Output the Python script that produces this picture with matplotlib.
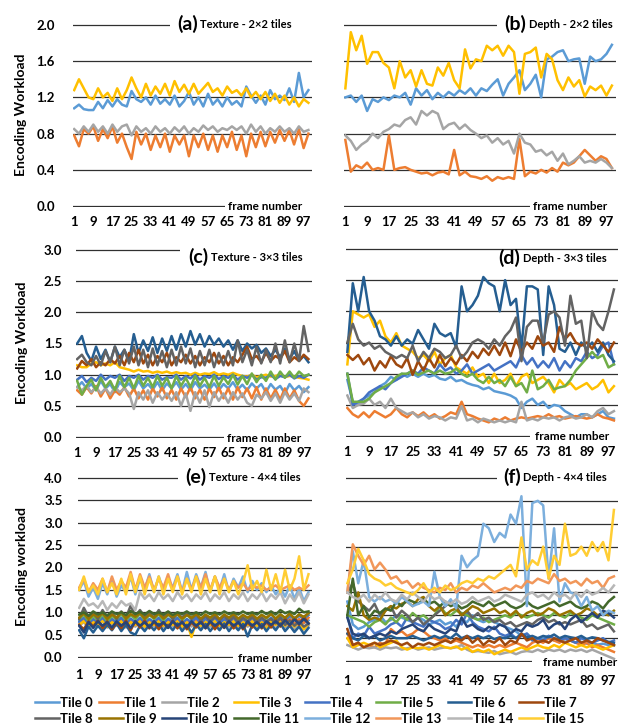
import numpy as np
import matplotlib.pyplot as plt
from matplotlib.patches import Rectangle

plt.rcParams['font.family'] = ['Lato', 'DejaVu Sans']
plt.rcParams['font.weight'] = 'bold'

W, H = 626, 725

# every second frame of the 100-frame sequence
frames = np.arange(1, 100, 2)
tick_frames = np.arange(1, 98, 8)
tiles = ['Tile %d' % i for i in range(16)]
colors = ['#5B9BD5', '#ED7D31', '#A5A5A5', '#FFC000', '#4472C4', '#70AD47', '#255E91', '#9E480E',
          '#636363', '#997300', '#264478', '#43682B', '#7CAFDD', '#F1975A', '#B7B7B7', '#FFCD33']

# (a) texture 2x2
tex_2x2 = [
    [1.08,1.12,1.07,1.06,1.06,1.15,1.08,1.17,1.10,1.18,1.12,1.10,1.27,1.18,1.15,1.20,1.12,1.22,1.13,1.18,1.12,1.22,1.10,1.16,1.26,1.12,1.20,1.10,1.24,1.12,1.18,1.10,1.20,1.12,1.16,1.10,1.32,1.22,1.14,1.22,1.12,1.28,1.18,1.22,1.17,1.30,1.15,1.47,1.20,1.28],
    [0.78,0.66,0.85,0.80,0.88,0.72,0.85,0.75,0.88,0.70,0.80,0.65,0.52,0.82,0.68,0.80,0.62,0.78,0.65,0.80,0.60,0.78,0.68,0.78,0.55,0.78,0.65,0.80,0.62,0.78,0.60,0.78,0.65,0.82,0.62,0.78,0.55,0.80,0.65,0.82,0.66,0.82,0.70,0.84,0.72,0.84,0.68,0.85,0.64,0.80],
    [0.85,0.80,0.88,0.82,0.90,0.82,0.88,0.80,0.90,0.82,0.88,0.90,0.78,0.88,0.82,0.86,0.80,0.88,0.82,0.86,0.80,0.87,0.82,0.88,0.80,0.86,0.82,0.89,0.84,0.88,0.82,0.86,0.84,0.88,0.84,0.88,0.80,0.90,0.82,0.88,0.80,0.86,0.82,0.88,0.82,0.86,0.80,0.88,0.82,0.84],
    [1.28,1.40,1.30,1.20,1.18,1.30,1.20,1.25,1.16,1.30,1.18,1.28,1.42,1.30,1.20,1.35,1.22,1.32,1.24,1.35,1.22,1.38,1.26,1.34,1.24,1.35,1.24,1.30,1.36,1.26,1.30,1.22,1.32,1.25,1.28,1.22,1.30,1.20,1.26,1.18,1.26,1.16,1.24,1.14,1.22,1.12,1.20,1.10,1.18,1.14],
]

# (b) depth 2x2
dep_2x2 = [
    [1.20,1.22,1.15,1.22,1.05,1.18,1.15,1.20,1.17,1.22,1.20,1.25,1.12,1.30,1.22,1.28,1.18,1.25,1.20,1.26,1.22,1.28,1.24,1.30,1.22,1.30,1.27,1.34,1.40,1.22,1.35,1.42,1.50,1.28,1.35,1.45,1.20,1.62,1.65,1.70,1.72,1.60,1.62,1.63,1.35,1.65,1.60,1.62,1.68,1.78],
    [0.73,0.38,0.45,0.42,0.48,0.40,0.42,0.40,0.78,0.40,0.42,0.43,0.40,0.38,0.36,0.37,0.34,0.37,0.38,0.35,0.62,0.34,0.38,0.33,0.32,0.30,0.33,0.28,0.32,0.30,0.32,0.30,0.74,0.33,0.38,0.36,0.40,0.37,0.42,0.38,0.48,0.45,0.48,0.55,0.62,0.56,0.50,0.55,0.52,0.42],
    [0.78,0.72,0.62,0.68,0.72,0.80,0.75,0.82,0.85,0.90,0.88,0.95,0.98,0.90,1.05,1.00,1.05,1.02,0.85,0.90,0.92,0.85,0.90,0.84,0.80,0.75,0.78,0.70,0.75,0.68,0.72,0.58,0.80,0.70,0.68,0.60,0.62,0.56,0.60,0.50,0.58,0.46,0.50,0.55,0.48,0.50,0.48,0.52,0.48,0.42],
    [1.30,1.92,1.72,1.88,1.57,1.70,1.70,1.58,1.53,1.30,1.60,1.42,1.50,1.32,1.50,1.35,1.33,1.53,1.44,1.58,1.39,1.30,1.73,1.52,1.62,1.60,1.77,1.72,1.77,1.66,1.77,1.70,1.24,1.68,1.70,1.75,1.42,1.68,1.62,1.39,1.28,1.42,1.32,1.39,1.21,1.32,1.28,1.33,1.22,1.33],
]

# (c) texture 3x3
tex_3x3 = [
    [0.80,0.88,0.78,0.85,0.75,0.90,0.78,0.85,0.72,0.88,0.80,0.86,0.75,0.90,0.78,0.85,0.76,0.88,0.75,0.86,0.78,0.88,0.76,0.85,0.75,0.88,0.78,0.84,0.76,0.86,0.75,0.85,0.78,0.88,0.76,0.84,0.75,0.86,0.78,0.85,0.72,0.85,0.76,0.82,0.70,0.85,0.75,0.82,0.72,0.80],
    [0.75,0.68,0.80,0.70,0.82,0.65,0.78,0.62,0.75,0.68,0.80,0.65,0.78,0.62,0.75,0.60,0.78,0.65,0.80,0.62,0.76,0.60,0.78,0.64,0.80,0.62,0.76,0.60,0.78,0.64,0.80,0.62,0.78,0.60,0.80,0.64,0.78,0.62,0.80,0.60,0.78,0.62,0.76,0.60,0.78,0.62,0.75,0.58,0.50,0.62],
    [0.80,0.75,0.82,0.72,0.80,0.70,0.78,0.68,0.80,0.72,0.78,0.70,0.45,0.72,0.60,0.75,0.55,0.72,0.60,0.70,0.58,0.72,0.50,0.70,0.42,0.72,0.55,0.75,0.48,0.72,0.58,0.70,0.55,0.72,0.60,0.70,0.55,0.50,0.68,0.62,0.72,0.58,0.70,0.55,0.72,0.60,0.70,0.58,0.78,0.72],
    [1.15,1.12,1.12,1.18,1.20,1.15,1.18,1.15,1.20,1.12,1.10,1.08,1.05,1.08,1.05,1.06,1.03,1.05,1.03,1.05,1.02,1.04,1.02,1.03,1.00,1.03,1.00,1.02,1.01,1.04,1.00,1.02,1.00,1.03,1.00,0.98,0.97,1.00,0.96,0.98,1.00,0.97,0.98,1.00,0.96,0.98,0.97,0.95,0.94,0.92],
    [0.92,0.98,0.88,0.95,0.90,1.00,0.92,0.98,0.95,1.00,0.90,0.98,0.95,1.00,0.92,0.98,0.95,1.00,0.92,0.96,0.95,1.00,0.92,0.98,0.94,1.00,0.92,0.98,0.95,1.00,0.93,0.98,0.95,1.00,0.92,0.98,0.95,1.00,0.92,0.96,0.95,1.00,0.93,0.98,0.96,1.00,0.94,0.98,0.95,1.00],
    [0.90,0.68,0.82,0.92,0.75,0.95,0.80,0.90,0.75,0.98,0.80,0.95,0.78,0.98,0.82,0.95,0.80,0.98,0.82,0.95,0.78,0.98,0.82,0.95,0.80,0.98,0.82,0.95,0.80,0.98,0.82,0.96,0.85,1.00,0.84,0.98,0.85,1.02,0.88,1.00,0.90,1.05,0.92,1.05,0.95,1.05,0.95,1.05,0.98,1.00],
    [1.50,1.62,1.35,1.22,1.45,1.25,1.40,1.20,1.45,1.28,1.40,1.22,1.65,1.35,1.55,1.38,1.60,1.35,1.58,1.38,1.62,1.40,1.65,1.45,1.70,1.48,1.65,1.45,1.62,1.48,1.58,1.45,1.55,1.40,1.55,1.38,1.50,1.42,1.48,1.35,1.42,1.30,1.40,1.28,1.42,1.25,1.38,1.22,1.30,1.20],
    [1.10,1.22,1.15,1.25,1.12,1.20,1.15,1.25,1.18,1.30,1.15,1.35,1.20,1.40,1.18,1.32,1.15,1.30,1.20,1.35,1.15,1.28,1.20,1.32,1.18,1.30,1.15,1.28,1.20,1.35,1.18,1.30,1.15,1.28,1.20,1.32,1.45,1.25,1.30,1.20,1.35,1.22,1.30,1.25,1.38,1.20,1.28,1.22,1.32,1.25],
    [1.25,1.32,1.20,1.15,1.30,1.15,1.38,1.20,1.45,1.15,1.40,1.18,1.45,1.15,1.40,1.12,1.42,1.15,1.38,1.12,1.40,1.15,1.45,1.18,1.42,1.12,1.38,1.15,1.40,1.12,1.35,1.15,1.38,1.15,1.55,1.20,1.40,1.15,1.45,1.18,1.40,1.20,1.50,1.18,1.55,1.20,1.50,1.22,1.78,1.38],
]

# (d) depth 3x3
dep_3x3 = [
    [0.90,0.55,0.50,0.60,0.65,0.70,0.80,0.85,0.95,0.90,1.00,0.95,1.00,0.95,1.00,0.95,0.98,0.92,0.90,0.95,0.88,0.90,0.85,0.82,0.80,0.75,0.78,0.72,0.70,0.68,0.65,0.60,0.45,0.55,0.60,0.50,0.55,0.45,0.50,0.48,0.40,0.35,0.30,0.35,0.35,0.30,0.35,0.40,0.30,0.28],
    [0.45,0.35,0.30,0.38,0.30,0.40,0.35,0.30,0.35,0.45,0.35,0.30,0.38,0.32,0.38,0.30,0.35,0.28,0.32,0.38,0.35,0.55,0.35,0.32,0.28,0.25,0.22,0.28,0.25,0.30,0.25,0.28,0.30,0.28,0.30,0.32,0.30,0.35,0.30,0.32,0.28,0.30,0.32,0.30,0.28,0.30,0.35,0.30,0.28,0.25],
    [0.65,0.45,0.50,0.52,0.60,0.50,0.55,0.45,0.60,0.45,0.40,0.35,0.38,0.30,0.35,0.28,0.32,0.30,0.25,0.30,0.28,0.48,0.25,0.28,0.22,0.28,0.25,0.22,0.25,0.22,0.25,0.22,0.55,0.25,0.28,0.25,0.30,0.28,0.30,0.25,0.30,0.32,0.28,0.30,0.35,0.30,0.40,0.45,0.35,0.40],
    [1.15,2.00,1.95,1.90,1.95,1.75,1.85,1.60,1.50,1.65,1.45,1.40,1.35,1.25,1.30,1.20,1.35,1.15,1.25,1.30,1.10,1.05,1.00,1.10,0.95,1.00,0.85,1.00,0.85,0.90,1.00,0.80,0.95,1.00,0.85,0.90,0.95,0.85,0.70,0.90,0.80,0.85,0.75,0.80,0.85,0.75,0.80,0.90,0.70,0.80],
    [1.00,0.50,0.55,0.60,0.70,0.75,0.80,0.75,0.85,0.90,0.95,1.00,1.05,1.00,1.10,1.05,1.00,1.15,1.05,1.10,1.00,1.05,1.15,1.00,1.05,1.10,1.15,1.05,1.10,1.15,1.20,1.10,1.30,1.15,1.25,1.10,1.20,1.10,1.25,1.05,1.20,1.10,1.25,1.20,1.35,1.25,1.30,1.45,1.50,1.15],
    [1.00,0.55,0.55,0.55,0.60,0.70,0.75,0.80,0.85,0.95,1.00,1.00,1.05,0.98,1.02,1.05,1.00,1.05,1.00,1.02,1.08,1.00,0.95,1.00,0.90,0.85,0.95,0.85,0.90,0.80,0.95,0.80,0.85,0.70,1.05,0.75,0.80,0.90,0.75,0.78,0.80,0.90,1.05,1.15,1.25,1.35,1.25,1.30,1.10,1.15],
    [1.35,2.45,2.00,2.55,2.00,1.85,1.60,1.55,1.45,1.60,1.45,1.55,1.48,1.70,1.55,1.40,1.80,1.65,1.60,1.65,1.42,2.40,2.00,2.10,2.25,2.55,2.45,2.40,2.00,2.50,2.10,2.20,1.40,2.40,2.40,2.35,1.30,2.40,2.10,1.40,1.35,1.50,1.30,1.50,1.40,1.50,1.35,1.50,1.30,1.20],
    [1.30,1.22,1.30,1.15,1.25,1.05,1.20,1.10,1.28,1.15,1.10,1.25,0.98,1.20,1.05,1.25,1.10,1.30,1.12,1.25,1.15,1.30,1.20,1.35,1.25,1.40,1.30,1.45,1.30,1.50,1.28,1.55,1.35,1.50,1.40,1.60,1.45,1.50,1.35,1.75,1.55,1.65,1.50,1.45,1.50,1.40,1.55,1.45,1.35,1.50],
    [1.50,1.80,1.55,1.45,1.50,1.40,1.45,1.35,1.30,1.25,1.30,1.25,1.45,1.20,1.35,1.25,1.40,1.35,1.25,1.30,1.45,1.25,1.35,1.50,1.55,1.50,1.40,1.55,1.45,1.60,1.70,1.90,1.20,1.75,1.85,1.85,1.50,1.95,2.00,1.90,1.45,2.25,1.80,1.85,1.25,2.00,1.80,1.70,2.00,2.35],
]

# (e) texture 4x4
tex_4x4 = [
    [0.78,0.85,0.75,0.82,0.78,0.86,0.74,0.83,0.77,0.85,0.75,0.82,0.78,0.86,0.75,0.83,0.77,0.85,0.74,0.82,0.78,0.85,0.75,0.83,0.77,0.85,0.74,0.82,0.78,0.86,0.75,0.83,0.77,0.85,0.74,0.82,0.78,0.85,0.76,0.83,0.78,0.86,0.76,0.84,0.78,0.86,0.75,0.83,0.76,0.82],
    [0.72,0.82,0.70,0.78,0.74,0.84,0.70,0.80,0.72,0.82,0.70,0.80,0.74,0.84,0.70,0.80,0.72,0.82,0.70,0.80,0.74,0.82,0.70,0.80,0.72,0.82,0.70,0.80,0.74,0.84,0.70,0.80,0.72,0.82,0.70,0.80,0.74,0.84,0.72,0.82,0.74,0.86,0.72,0.84,0.76,0.86,0.74,0.85,0.76,0.88],
    [0.70,0.78,0.66,0.75,0.70,0.80,0.66,0.76,0.70,0.78,0.66,0.75,0.68,0.78,0.65,0.75,0.68,0.78,0.66,0.75,0.68,0.77,0.64,0.75,0.68,0.78,0.66,0.75,0.68,0.78,0.65,0.75,0.68,0.77,0.64,0.74,0.68,0.76,0.65,0.74,0.68,0.76,0.64,0.74,0.66,0.75,0.63,0.72,0.62,0.70],
    [0.72,0.80,0.70,0.78,0.72,0.82,0.68,0.78,0.72,0.80,0.70,0.78,0.72,0.80,0.68,0.78,0.72,0.80,0.70,0.78,0.72,0.80,0.68,0.78,0.45,0.78,0.70,0.80,0.72,0.82,0.70,0.80,0.72,0.80,0.70,0.78,0.72,0.80,0.70,0.78,0.62,0.80,0.72,0.78,0.70,0.80,0.68,0.78,0.62,0.75],
    [0.80,0.88,0.75,0.85,0.78,0.88,0.76,0.85,0.78,0.88,0.75,0.86,0.78,0.88,0.76,0.85,0.78,0.88,0.75,0.86,0.78,0.88,0.76,0.85,0.78,0.88,0.75,0.86,0.78,0.88,0.76,0.85,0.78,0.88,0.75,0.86,0.78,0.88,0.76,0.85,0.78,0.88,0.80,0.90,0.82,0.92,0.85,0.92,0.86,0.94],
    [0.85,0.95,0.80,0.92,0.82,0.95,0.80,0.92,0.84,0.96,0.82,0.94,0.85,0.97,0.82,0.94,0.85,0.96,0.82,0.95,0.85,0.96,0.83,0.94,0.85,0.96,0.82,0.94,0.85,0.96,0.83,0.95,0.85,0.96,0.82,0.94,0.86,0.96,0.84,0.95,0.86,0.97,0.85,0.96,0.86,0.98,0.85,0.96,0.88,0.98],
    [0.60,0.42,0.68,0.55,0.70,0.58,0.72,0.60,0.75,0.58,0.72,0.55,0.50,0.70,0.58,0.72,0.60,0.74,0.58,0.72,0.60,0.75,0.58,0.72,0.55,0.72,0.60,0.74,0.58,0.72,0.60,0.75,0.58,0.72,0.60,0.74,0.46,0.72,0.60,0.74,0.58,0.72,0.60,0.75,0.58,0.70,0.56,0.68,0.52,0.65],
    [0.72,0.62,0.80,0.68,0.82,0.65,0.80,0.62,0.78,0.65,0.82,0.60,0.80,0.66,0.82,0.64,0.80,0.62,0.78,0.66,0.82,0.64,0.80,0.62,0.78,0.66,0.82,0.64,0.80,0.62,0.78,0.65,0.82,0.64,0.80,0.62,0.78,0.66,0.82,0.64,0.80,0.66,0.84,0.68,0.86,0.70,0.88,0.72,0.90,0.75],
    [0.85,1.10,0.90,1.00,0.85,1.05,0.88,1.00,0.85,1.02,0.88,1.15,0.92,1.05,0.90,1.00,0.88,1.05,0.90,1.00,0.85,0.98,0.88,1.00,0.85,0.95,0.82,0.92,0.80,0.90,0.82,0.92,0.80,0.90,0.78,0.88,0.80,0.90,0.78,0.88,0.80,0.85,0.75,0.88,0.72,0.82,0.70,0.80,0.68,0.75],
    [0.88,0.98,0.85,0.95,0.90,0.98,0.85,0.95,0.88,1.00,0.86,0.96,0.90,0.98,0.86,0.95,0.88,0.98,0.86,0.95,0.90,0.96,0.86,0.94,0.88,0.96,0.86,0.95,0.88,0.96,0.85,0.95,0.88,0.96,0.86,0.94,0.88,0.95,0.86,0.94,0.88,0.96,0.86,0.95,0.88,0.97,0.86,0.95,0.90,0.98],
    [0.70,0.55,0.78,0.65,0.80,0.70,0.78,0.66,0.80,0.70,0.78,0.65,0.80,0.70,0.78,0.66,0.80,0.70,0.78,0.65,0.80,0.70,0.78,0.66,0.80,0.70,0.78,0.65,0.80,0.70,0.78,0.66,0.80,0.70,0.78,0.65,0.80,0.70,0.78,0.66,0.80,0.72,0.80,0.70,0.82,0.72,0.84,0.74,0.85,0.75],
    [0.95,1.00,0.92,1.02,0.95,1.00,0.93,1.02,0.96,1.00,0.94,1.03,0.96,1.01,0.95,1.03,0.96,1.00,0.95,1.02,0.94,1.00,0.96,1.02,0.95,1.00,0.94,1.02,0.96,1.00,0.95,1.02,0.96,1.00,0.95,1.02,0.96,1.00,0.95,1.03,0.96,1.02,0.95,1.05,0.98,1.02,0.96,1.08,1.00,1.02],
    [1.50,1.70,1.35,1.55,1.30,1.65,1.40,1.75,1.35,1.60,1.45,1.80,1.40,1.75,1.50,1.85,1.45,1.80,1.50,1.75,1.55,1.85,1.45,1.90,1.50,1.85,1.55,1.90,1.45,1.80,1.50,1.85,1.45,1.75,1.55,1.80,1.45,1.70,1.50,1.65,1.45,1.60,1.40,1.55,1.35,1.60,1.30,1.55,1.25,1.45],
    [1.55,1.75,1.45,1.65,1.50,1.75,1.45,1.80,1.50,1.70,1.55,1.90,1.50,1.85,1.55,1.80,1.50,1.75,1.55,1.85,1.50,1.80,1.45,1.75,1.50,1.80,1.55,1.85,1.50,1.80,1.55,1.75,1.50,1.70,1.55,1.65,1.50,1.60,1.55,1.60,1.50,1.55,1.60,1.50,1.55,1.60,1.50,1.55,1.50,1.60],
    [1.10,1.30,1.15,1.20,1.10,1.25,1.05,1.20,1.10,1.25,1.15,1.20,1.05,1.45,1.30,1.40,1.25,1.45,1.30,1.40,1.25,1.45,1.30,1.40,1.25,1.40,1.30,1.45,1.25,1.40,1.30,1.45,1.25,1.40,1.30,1.45,1.25,1.40,1.30,1.45,1.25,1.40,1.30,1.45,1.20,1.40,1.25,1.45,1.20,1.40],
    [1.50,1.80,1.45,1.60,1.40,1.75,1.45,1.65,1.40,1.75,1.40,1.85,1.45,1.80,1.40,1.75,1.45,1.80,1.40,1.75,1.45,1.80,1.40,1.75,1.45,1.80,1.40,1.75,1.45,1.80,1.40,1.75,1.45,1.70,1.40,1.65,2.05,1.50,1.70,1.45,1.95,1.50,1.85,1.45,1.95,1.50,1.75,2.25,1.50,1.85],
]

# (f) depth 4x4
dep_4x4 = [
    [1.30,0.80,0.70,0.75,0.85,0.90,1.00,0.85,0.90,1.00,0.95,0.90,0.85,0.95,0.90,0.80,0.85,0.90,0.80,0.85,0.75,0.90,0.85,1.00,0.90,0.85,0.90,0.85,0.80,0.75,0.70,0.65,0.55,0.60,0.50,0.45,0.50,0.55,0.45,0.48,0.42,0.45,0.40,0.42,0.38,0.40,0.36,0.38,0.35,0.34],
    [0.60,0.35,0.40,0.30,0.35,0.30,0.40,0.35,0.70,0.60,0.65,0.55,0.60,0.70,0.65,0.55,0.50,0.45,0.50,0.40,0.45,0.40,0.35,0.30,0.35,0.30,0.35,0.30,0.35,0.30,0.35,0.40,0.35,0.30,0.40,0.45,0.40,0.50,0.45,0.40,0.50,0.45,0.40,0.35,0.40,0.30,0.35,0.30,0.25,0.20],
    [0.35,0.30,0.25,0.30,0.28,0.30,0.25,0.30,0.28,0.30,0.25,0.28,0.30,0.25,0.28,0.30,0.25,0.28,0.30,0.28,0.30,0.35,0.25,0.20,0.22,0.20,0.18,0.22,0.15,0.18,0.20,0.15,0.20,0.22,0.20,0.25,0.20,0.25,0.22,0.25,0.20,0.25,0.22,0.25,0.20,0.25,0.20,0.15,0.10,0.05],
    [0.50,0.30,0.35,0.40,0.35,0.40,0.30,0.35,0.40,0.45,0.30,0.25,0.30,0.28,0.30,0.25,0.30,0.35,0.30,0.28,0.32,0.25,0.30,0.20,0.25,0.20,0.25,0.15,0.20,0.25,0.20,0.25,0.30,0.25,0.30,0.35,0.30,0.28,0.35,0.30,0.40,0.35,0.30,0.35,0.30,0.35,0.30,0.25,0.30,0.35],
    [1.00,0.50,0.60,0.55,0.75,0.60,0.65,0.70,0.80,0.85,0.75,0.95,0.85,0.80,0.75,0.90,0.85,0.80,0.70,0.75,0.90,0.80,1.05,0.85,0.75,0.70,0.65,0.75,0.60,0.55,0.60,0.50,0.55,0.60,0.45,0.50,0.45,0.55,0.50,0.45,0.50,0.45,0.40,0.50,0.45,0.40,0.45,0.50,0.40,0.45],
    [1.00,0.95,0.90,0.85,0.75,0.85,0.90,0.80,0.95,0.85,1.00,0.90,1.05,0.95,1.00,0.90,1.00,1.20,1.05,1.00,1.10,1.05,1.00,0.95,0.90,0.95,0.85,0.90,0.95,1.00,0.95,1.05,1.00,0.95,1.00,1.05,1.00,0.95,1.05,1.00,0.95,1.05,1.00,0.95,0.90,1.00,0.95,0.90,0.85,0.80],
    [0.60,0.50,0.45,0.55,0.50,0.55,0.45,0.50,0.55,0.50,0.50,0.50,0.55,0.50,0.45,0.50,0.55,0.50,0.55,0.50,0.60,0.50,0.55,0.50,0.55,0.50,0.55,0.48,0.52,0.50,0.55,0.50,0.60,0.52,0.55,0.50,0.55,0.52,0.58,0.50,0.55,0.52,0.50,0.55,0.48,0.52,0.50,0.45,0.42,0.40],
    [0.70,0.35,0.40,0.30,0.35,0.40,0.35,0.40,0.45,0.40,0.35,0.40,0.30,0.38,0.35,0.40,0.35,0.40,0.45,0.40,0.50,0.45,0.55,0.40,0.50,0.35,0.45,0.40,0.50,0.35,0.45,0.40,0.60,0.45,0.50,0.40,0.45,0.40,0.50,0.45,0.40,0.45,0.50,0.40,0.45,0.40,0.50,0.45,0.40,0.35],
    [1.50,1.70,1.30,1.20,1.10,1.25,1.00,1.10,1.20,0.95,1.10,1.00,0.85,0.95,0.80,0.90,1.00,1.10,1.20,1.30,1.20,1.00,1.10,0.95,1.05,0.90,0.95,0.85,0.90,0.80,0.85,0.75,0.80,0.85,0.80,0.90,0.95,0.85,0.90,0.80,0.85,0.80,0.85,0.90,0.75,0.80,0.70,0.75,0.80,0.65],
    [1.20,1.10,1.50,1.00,0.90,0.95,0.90,1.10,1.20,1.15,1.25,1.30,1.20,1.35,1.40,1.20,1.10,1.20,1.00,1.10,1.15,1.00,1.10,1.20,1.15,1.05,1.10,1.15,1.05,1.10,1.00,1.10,0.95,1.05,1.10,1.00,1.05,1.15,1.10,1.00,1.05,1.10,1.00,1.05,1.15,1.10,1.00,1.05,1.00,1.10],
    [0.95,0.60,0.55,0.60,0.50,0.55,0.60,0.55,0.65,0.60,0.70,0.75,0.80,0.70,0.65,0.80,0.70,0.65,0.60,0.70,0.65,0.95,0.75,0.80,0.70,0.65,0.75,0.70,0.80,0.75,0.60,0.70,0.65,0.80,0.75,0.80,0.90,0.70,0.80,0.85,0.70,0.90,1.00,0.85,0.95,1.05,0.95,1.10,1.05,0.95],
    [1.00,1.80,1.00,1.20,0.95,1.10,1.05,1.15,1.10,1.30,1.20,1.35,1.30,1.25,1.35,1.25,1.30,1.20,1.30,1.20,1.25,1.15,1.20,1.30,1.25,1.20,1.30,1.20,1.25,1.30,1.20,1.15,1.20,1.30,1.20,1.15,1.20,1.25,1.30,1.20,1.25,1.30,1.20,1.15,1.20,1.30,1.25,1.15,1.30,1.40],
    [1.50,2.40,1.70,2.20,1.40,1.30,1.40,1.30,1.35,1.25,1.40,1.30,1.20,1.25,1.30,1.20,1.95,1.40,1.20,1.35,1.15,2.30,2.05,2.20,2.30,3.00,2.90,2.60,2.80,2.70,3.20,3.00,3.60,1.20,3.45,3.50,3.40,1.80,2.90,1.30,1.70,1.50,1.45,1.20,1.40,1.10,1.20,1.00,1.10,1.05],
    [1.50,2.55,2.30,2.10,2.30,2.00,2.15,2.00,1.80,1.85,1.70,1.75,1.60,1.70,1.60,1.55,1.50,1.60,1.55,1.70,1.50,1.60,1.55,1.65,1.60,1.70,1.60,1.50,1.55,1.60,1.55,1.65,1.60,1.75,1.70,1.80,1.75,1.70,1.90,1.75,1.80,1.70,1.75,1.65,1.80,1.70,1.75,1.60,1.80,1.85],
    [1.50,1.40,1.35,1.45,1.30,1.45,1.35,1.50,1.35,1.30,1.45,1.35,1.50,1.40,1.30,1.45,1.35,1.40,1.30,1.25,1.35,1.25,1.30,1.40,1.30,1.35,1.40,1.30,1.35,1.45,1.40,1.35,1.30,1.45,1.50,1.40,1.45,1.35,1.50,1.40,1.45,1.35,1.50,1.40,1.55,1.45,1.50,1.60,1.50,1.65],
    [1.70,2.00,2.45,2.20,1.90,1.80,1.75,1.65,1.70,1.60,1.55,1.50,1.45,1.55,1.70,1.50,1.60,1.50,1.65,1.55,1.60,1.70,1.75,1.70,1.80,1.75,1.85,1.80,1.90,2.00,2.10,1.85,2.70,2.00,2.20,2.10,2.50,1.80,2.30,2.10,3.00,2.30,2.35,2.50,2.30,2.60,2.40,2.60,2.20,3.30],
]


def px_rect(l, r, t, b):
    return [l / W, 1 - b / H, (r - l) / W, (b - t) / H]


fig = plt.figure(figsize=(W / 100, H / 100), dpi=100)

# data, ymax, step, letter, subtitle, box px, title x/y, top cover x, frame-number x, bottom cover x, ylabel pad, xtick pad
panels = [
    (tex_2x2, 2.0, 0.4, '(a)', 'Texture - 2×2 tiles', (73, 312, 24, 207), 0.435, 1.0, 0.406, 0.649, 0.636, 13, 6.5),
    (dep_2x2, 2.0, 0.4, '(b)', 'Depth - 2×2 tiles', (344, 616, 24, 207), 0.588, 1.0, 0.5625, 0.695, 0.684, None, 6.5),
    (tex_3x3, 3.0, 0.5, '(c)', 'Texture - 3×3 tiles', (76, 312, 249, 438), 0.475, 0.958, 0.44, 0.64, 0.627, 10, 6.5),
    (dep_3x3, 3.0, 0.5, '(d)', 'Depth - 3×3 tiles', (346, 618, 248, 437), 0.559, 0.947, None, 0.695, 0.676, None, 6.5),
    (tex_4x4, 4.0, 0.5, '(e)', 'Texture - 4×4 tiles', (78, 312, 477, 658), 0.457, 1.0, 0.427, 0.684, 0.662, 11, 8),
    (dep_4x4, 4.0, 0.5, '(f)', 'Depth - 4×4 tiles', (346, 618, 477, 662), 0.577, 1.0, 0.555, 0.724, 0.684, None, 9.5),
]

axes = []
for series, ymax, step, letter, sub, box, tx, ty, cov_top, fx, cov_bot, ypad, xpad in panels:
    ax = fig.add_axes(px_rect(*box))
    for i, vals in enumerate(series):
        ax.plot(frames[:len(vals)], vals, color=colors[i], lw=1.8, label=tiles[i],
                solid_joinstyle='round')
    ax.set_xlim(0.5, 100.5)
    ax.set_ylim(-ymax * 0.005, ymax * 1.005)
    yt = np.round(np.arange(0, ymax + 0.001, step), 2)
    ax.set_yticks(yt)
    ax.set_xticks(tick_frames)
    ax.grid(axis='y', color='#303030', lw=0.9)
    ax.set_axisbelow(True)
    for s in ax.spines.values():
        s.set_visible(False)
    ax.tick_params(length=0)
    ax.tick_params(axis='x', labelsize=9.5, pad=xpad)
    if ypad is not None:
        ax.set_yticklabels(['%.1f' % v for v in yt])
        ax.tick_params(axis='y', labelsize=9.5, pad=ypad)
    else:
        ax.set_yticklabels([])

    # white patches hide the gridline behind the title and "frame number"
    if cov_top is not None:
        ax.add_patch(Rectangle((cov_top, 0.975), 1.02 - cov_top, 0.05, transform=ax.transAxes,
                               facecolor='white', edgecolor='none', zorder=1.5, clip_on=False))
    ax.add_patch(Rectangle((cov_bot, -0.025), 1.02 - cov_bot, 0.05, transform=ax.transAxes,
                           facecolor='white', edgecolor='none', zorder=1.5, clip_on=False))
    t1 = ax.text(tx, ty, letter, transform=ax.transAxes, fontsize=14, ha='left', va='center')
    ax.annotate(sub, xy=(1, 0.45), xycoords=t1, xytext=(2, 0), textcoords='offset points',
                fontsize=8, ha='left', va='center')
    ax.text(fx, 0.0, 'frame number', transform=ax.transAxes, fontsize=8.5, ha='left', va='center')
    axes.append(ax)

fig.text(21 / W, 1 - 115 / H, 'Encoding Workload', rotation=90, ha='center', va='center', fontsize=10)
fig.text(22 / W, 1 - 343 / H, 'Encoding Workload', rotation=90, ha='center', va='center', fontsize=10)
fig.text(22 / W, 1 - 567 / H, 'Encoding workload', rotation=90, ha='center', va='center', fontsize=10)

handles = axes[-1].get_lines()
order = [j for i in range(8) for j in (i, i + 8)]
fig.legend([handles[k] for k in order], [tiles[k] for k in order], ncol=8,
           loc='upper left', bbox_to_anchor=(35 / W, 1 - 697 / H), frameon=False,
           fontsize=9.5, handlelength=1.8, handletextpad=0.1, columnspacing=0.45,
           labelspacing=0.3, borderpad=0, borderaxespad=0)

fig.savefig('out.png', dpi=100, facecolor='white')
